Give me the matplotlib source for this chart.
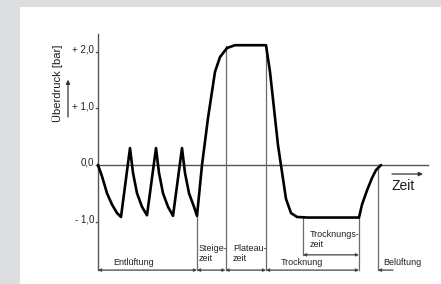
import matplotlib
matplotlib.use('Agg')
import matplotlib.pyplot as plt
from matplotlib import font_manager

# pressure curve (time in arbitrary units, pressure in bar)
t_curve = [0, 4, 9, 14, 19, 23, 32, 35, 39, 44, 49, 58, 61, 65, 70, 75, 84, 87, 91, 96, 99,
           104, 110, 117, 122, 129, 137, 168, 172, 180, 188, 193, 199, 210, 261,
           264, 269, 274, 278, 283]
p_curve = [0, -0.2, -0.5, -0.7, -0.85, -0.92, 0.3, -0.14, -0.5, -0.74, -0.89, 0.3, -0.14, -0.5,
           -0.74, -0.9, 0.3, -0.14, -0.5, -0.74, -0.9,
           0, 0.83, 1.65, 1.91, 2.07, 2.12, 2.12, 1.65, 0.35, -0.6, -0.85, -0.92, -0.93, -0.93,
           -0.7, -0.45, -0.23, -0.09, 0]

y_ticks = [2.0, 1.0, 0.0, -1.0]
y_ticklabels = ['+ 2,0', '+ 1,0', '0,0', '- 1,0']

# phase boundaries
phase_edges = [0, 99, 127.5, 168, 261]
phase_labels = ['Entlüftung', 'Steige-\nzeit', 'Plateau-\nzeit', 'Trocknung']
dry_time = [205, 261]
vent_start = 280

names = {f.name for f in font_manager.fontManager.ttflist}
fam = 'Liberation Sans Narrow' if 'Liberation Sans Narrow' in names else 'Liberation Sans'
plt.rcParams['font.family'] = fam

fig = plt.figure(figsize=(4.41, 2.84), dpi=100)
fig.patch.set_facecolor('#dddee0')
ax = fig.add_axes([20 / 441, 0, 421 / 441, 277 / 284])
ax.set_facecolor('white')
ax.set_xlim(-78, 343)
ax.set_ylim(-2.106, 2.796)
ax.set_xticks([])
ax.set_yticks([])
for s in ax.spines.values():
    s.set_visible(False)

axc = '#555555'
lc = '#6a6a6a'
y_bot = -1.86

# axes
ax.plot([0, 0], [y_bot, 2.32], color=axc, lw=1.0)
ax.plot([0, 330], [0, 0], color=axc, lw=1.0)
for yt, lab in zip(y_ticks, y_ticklabels):
    ax.plot([-2.5, 0], [yt, yt], color=axc, lw=1.0)
    ax.text(-4, yt + 0.04, lab, ha='right', va='center', fontsize=7, color='#222222')

ax.text(-40, 1.45, 'Überdruck [bar]', rotation=90, ha='center', va='center',
        fontsize=8, color='#1a1a1a')
ax.annotate('', xy=(-30, 1.56), xytext=(-30, 0.8),
            arrowprops=dict(arrowstyle='-|>', color='#333333', lw=0.9, mutation_scale=6))

# vertical phase lines
tops = {99: -0.9, 127.5: 2.1, 168: 2.12, 261: -0.93}
for x, top in tops.items():
    ax.plot([x, x], [y_bot, top], color=lc, lw=0.9)
ax.plot([dry_time[0]] * 2, [-1.6, -0.92], color=lc, lw=0.9)
ax.plot([vent_start] * 2, [y_bot, 0], color=lc, lw=0.9)

# curve
ax.plot(t_curve, p_curve, color='black', lw=1.9, solid_joinstyle='round',
        solid_capstyle='round')

# brackets
arrow = dict(arrowstyle='<|-|>', color='#444444', lw=0.9, mutation_scale=4,
             shrinkA=0, shrinkB=0)
for a, b in zip(phase_edges[:-1], phase_edges[1:]):
    ax.annotate('', xy=(a, y_bot), xytext=(b, y_bot), arrowprops=arrow)
ax.annotate('', xy=(dry_time[0], -1.59), xytext=(dry_time[1], -1.59), arrowprops=arrow)
ax.annotate('', xy=(vent_start, y_bot), xytext=(vent_start + 15, y_bot),
            arrowprops=dict(arrowstyle='-|>', color='#444444', lw=0.9, mutation_scale=4,
                            shrinkA=0, shrinkB=0))

fs = 6.5
tc = '#222222'
ax.text(36, -1.81, phase_labels[0], ha='center', va='bottom', fontsize=fs, color=tc)
ax.text(100.5, -1.40, phase_labels[1], ha='left', va='top', fontsize=fs, color=tc,
        linespacing=1.1)
ax.text(135, -1.40, phase_labels[2], ha='left', va='top', fontsize=fs, color=tc,
        linespacing=1.1)
ax.text(204, -1.81, phase_labels[3], ha='center', va='bottom', fontsize=fs, color=tc)
ax.text(212, -1.15, 'Trocknungs-\nzeit', ha='left', va='top', fontsize=fs, color=tc,
        linespacing=1.1)
ax.text(285, -1.81, 'Belüftung', ha='left', va='bottom', fontsize=fs, color=tc)

# time arrow
ax.annotate('', xy=(325, -0.16), xytext=(294, -0.16),
            arrowprops=dict(arrowstyle='-|>', color='#333333', lw=0.9, mutation_scale=6,
                            shrinkA=0, shrinkB=0))
ax.text(305, -0.38, 'Zeit', ha='center', va='center', fontsize=10, color='#1a1a1a')

fig.savefig('out.png', dpi=100, facecolor=fig.get_facecolor())
